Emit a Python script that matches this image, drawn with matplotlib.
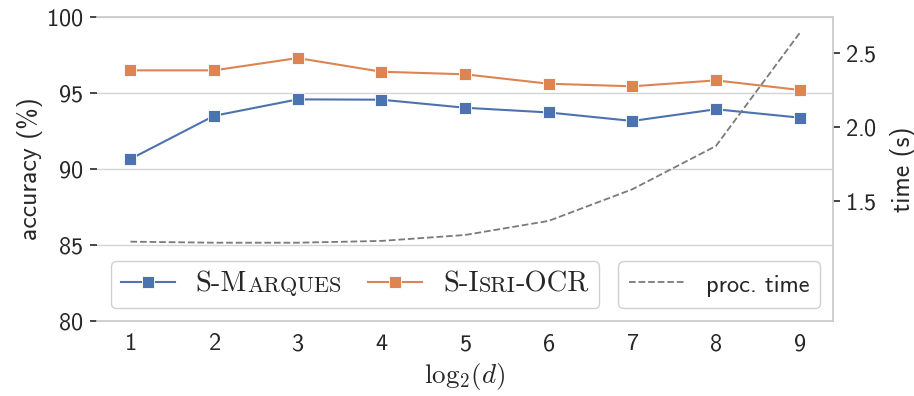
import matplotlib
matplotlib.use("Agg")
import matplotlib.pyplot as plt
from matplotlib.offsetbox import AnchoredOffsetbox, HPacker, TextArea, DrawingArea
from matplotlib.lines import Line2D

# ---- data -------------------------------------------------------------
log2_d = [1, 2, 3, 4, 5, 6, 7, 8, 9]
acc_marques = [90.66, 93.50, 94.58, 94.56, 94.03, 93.72, 93.16, 93.93, 93.38]
acc_isri = [96.49, 96.49, 97.30, 96.40, 96.23, 95.61, 95.44, 95.83, 95.20]
proc_time = [1.225, 1.218, 1.218, 1.230, 1.270, 1.365, 1.578, 1.870, 2.631]

series_names = ["S-Marques", "S-Isri-OCR"]
time_name = "proc. time"
acc_ticks = [80, 85, 90, 95, 100]
time_ticks = [1.5, 2.0, 2.5]

BLUE = "#4C72B0"
ORANGE = "#DD8452"
GREY_LINE = "#7a7a7a"
GRID = "#d4d4d4"
TEXT = "#262626"

plt.rcParams["font.family"] = "cmss10"
plt.rcParams["mathtext.fontset"] = "cm"
plt.rcParams["axes.formatter.use_mathtext"] = True
plt.rcParams["text.color"] = TEXT

fig = plt.figure(figsize=(9.14, 3.96), dpi=100)
ax = fig.add_axes([97 / 914, 1 - 321 / 396, (833 - 97) / 914, (321 - 17) / 396])
ax2 = ax.twinx()

# accuracy curves
ax.plot(log2_d, acc_marques, color=BLUE, marker="s", ms=8, mec="white", mew=0.6, lw=1.5)
ax.plot(log2_d, acc_isri, color=ORANGE, marker="s", ms=8, mec="white", mew=0.6, lw=1.5)

# processing time on the secondary axis
ax2.plot(log2_d, proc_time, color=GREY_LINE, ls="--", lw=1.3)

ax.set_xlim(0.6, 9.4)
ax.set_ylim(80, 100)
ax.set_yticks(acc_ticks)
ax.set_xticks(log2_d)
ax2.set_ylim(0.69, 2.74)
ax2.set_yticks(time_ticks)

ax.grid(axis="y", color=GRID, lw=1.0)
ax.grid(axis="x", visible=False)
ax2.grid(False)
ax.set_axisbelow(True)

for a in (ax, ax2):
    for s in a.spines.values():
        s.set_visible(False)
for s in ("bottom", "right", "top"):
    ax2.spines[s].set_visible(True)
    ax2.spines[s].set_color("#cccccc")
    ax2.spines[s].set_linewidth(1.3)

ax.tick_params(axis="x", length=0, pad=9, labelsize=17.5, colors=TEXT)
ax.tick_params(axis="y", length=5, width=1.2, pad=5, labelsize=17.5, colors=TEXT)
ax2.tick_params(axis="y", length=5, width=1.2, pad=4, labelsize=17.5, colors=TEXT)

ax.set_xlabel(r"$\mathrm{log}_2(d)$", fontsize=19.5, color=TEXT, labelpad=4)
ax.set_ylabel("accuracy (%)", fontsize=18.5, color=TEXT)
ax.yaxis.set_label_coords(-0.073, 0.5)
ax2.set_ylabel("time (s)", fontsize=18.5, color=TEXT)
ax2.yaxis.set_label_coords(1.077, 0.5)


def small_caps(label, size, family="cmr10"):
    """Render a label in small capitals as a row of text pieces."""
    parts = []
    for ch in label:
        small = ch.islower()
        if parts and parts[-1][1] == small:
            parts[-1][0] += ch.upper()
        else:
            parts.append([ch.upper(), small])
    boxes = [
        TextArea(t, textprops=dict(family=family, size=size * (0.78 if sm else 1.0), color=TEXT))
        for t, sm in parts
    ]
    return HPacker(children=boxes, align="baseline", pad=0, sep=0)


def handle(color, ls="-", marker=None, lw=1.5):
    da = DrawingArea(39, 14, 0, 0)
    da.add_artist(Line2D([0, 19.5, 39], [7.2, 7.2, 7.2], color=color, ls=ls, lw=lw,
                         marker=marker, markevery=[1] if marker else None,
                         ms=8, mec="white", mew=0.6))
    return da


def framed(entries, loc, anchor, pad, sep):
    row = HPacker(children=entries, align="baseline", pad=pad, sep=sep)
    box = AnchoredOffsetbox(loc=loc, child=row, pad=0, borderpad=0, frameon=True,
                            bbox_to_anchor=anchor, bbox_transform=ax2.transAxes)
    box.patch.set_boxstyle("round,pad=0,rounding_size=0.38")
    box.patch.set_edgecolor("#d0d0d0")
    box.patch.set_facecolor((1, 1, 1, 0.8))
    box.patch.set_linewidth(1.0)
    box.set_zorder(5)
    return box


entry_m = HPacker(children=[handle(BLUE, marker="s"), small_caps(series_names[0], 20.5)],
                  align="baseline", pad=0, sep=15)
entry_i = HPacker(children=[handle(ORANGE, marker="s"), small_caps(series_names[1], 20.5)],
                  align="baseline", pad=0, sep=15)
ax2.add_artist(framed([entry_m, entry_i], "lower left", (0.0186, 0.043), 7.3, 19))

entry_t = HPacker(children=[handle(GREY_LINE, ls="--", lw=1.3),
                            TextArea(time_name, textprops=dict(family="cmss10", size=17.5, color=TEXT))],
                  align="baseline", pad=0, sep=16)
ax2.add_artist(framed([entry_t], "lower right", (0.983, 0.043), 8.0, 0))

fig.savefig("out.png", dpi=100)
